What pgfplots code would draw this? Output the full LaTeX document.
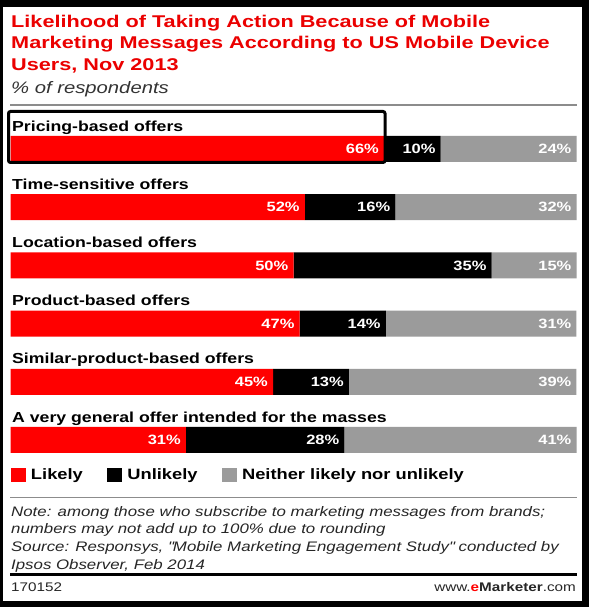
\documentclass[border=0pt]{standalone}
\usepackage{pgfplots}
\pgfplotsset{compat=1.18}
\usepackage{pgfplotstable}
\usepackage{fontspec}
\setmainfont{Liberation Sans}[FakeStretch=1.22]
\newfontfamily\titlefam{Liberation Sans}[FakeStretch=1.275]
\definecolor{emred}{RGB}{255,0,0}
\definecolor{emtitle}{RGB}{235,0,0}
\definecolor{emgray}{RGB}{155,155,155}

\pgfplotstableread{
row L U N
0 66 10 24
1 52 16 32
2 50 35 15
3 47 14 31
4 45 13 39
5 31 28 41
}\data

\newcommand\labfont{\bfseries\fontsize{14.5}{16}\selectfont}
\newcommand\pctfont{\bfseries\fontsize{13.5}{16}\selectfont}
\tikzset{catlab/.style={anchor=base west, inner sep=0pt, font=\labfont, xshift=1.5pt}}
\pgfplotsset{
  segbar/.style={xbar, bar width=26pt, bar shift=0pt, draw=none},
  pctlab/.style={forget plot, stack plots=false, only marks, mark=none,
  point meta=explicit symbolic,
  nodes near coords={\pgfplotspointmeta\%},
  nodes near coords style={anchor=east, xshift=-5pt, text=white, font=\pctfont, inner sep=0pt}}}

\begin{document}
\begin{tikzpicture}[x=1pt,y=1pt]
\fill[black] (0,0) rectangle (589,607);
\fill[white] (3,6) rectangle (582,599.5);
\useasboundingbox (0,0) rectangle (589,607);
% title
\node[anchor=base west, inner sep=0pt, text=emtitle, font=\titlefam\bfseries\fontsize{17}{20}\selectfont] at (11,579.7) {Likelihood of Taking Action Because of Mobile};
\node[anchor=base west, inner sep=0pt, text=emtitle, font=\titlefam\bfseries\fontsize{17}{20}\selectfont] at (11,558) {Marketing Messages According to US Mobile Device};
\node[anchor=base west, inner sep=0pt, text=emtitle, font=\titlefam\bfseries\fontsize{17}{20}\selectfont] at (11,536.3) {Users, Nov 2013};
\node[anchor=base west, inner sep=0pt, text=black!80, font=\itshape\fontsize{16.6}{20}\selectfont] at (11,513) {\% of respondents};
\draw[black!45, line width=1.5pt] (10,502) -- (577,502);

\begin{axis}[
  at={(10.5pt,487.1pt)}, anchor=north west,
  scale only axis, width=566pt, height=349.2pt,
  stack plots=x,
  xmin=0, xmax=100, ymin=-0.5, ymax=5.5, y dir=reverse,
  axis lines=none, ticks=none, clip=false,
  legend columns=-1,
  legend style={at={(axis description cs:0,-0.016)}, anchor=west, draw=none, fill=none,
    inner sep=0pt, outer sep=0pt, font=\bfseries\fontsize{15}{17}\selectfont,
    nodes={inner sep=0pt},
    /tikz/every odd column/.append style={column sep=5.5pt},
    /tikz/every even column/.append style={column sep=24pt}},
  legend image code/.code={\fill[#1] (0pt,-7pt) rectangle (15pt,7pt);},
]
\addplot[segbar, fill=emred] table[x expr=\thisrow{L}*100/(\thisrow{L}+\thisrow{U}+\thisrow{N}), y=row] {\data};
\addplot[segbar, fill=black] table[x expr=\thisrow{U}*100/(\thisrow{L}+\thisrow{U}+\thisrow{N}), y=row] {\data};
\addplot[segbar, fill=emgray] table[x expr=\thisrow{N}*100/(\thisrow{L}+\thisrow{U}+\thisrow{N}), y=row] {\data};
\legend{Likely, Unlikely, Neither likely nor unlikely}
% value labels at the end of each segment
\addplot[pctlab] table[x expr=\thisrow{L}*100/(\thisrow{L}+\thisrow{U}+\thisrow{N}), y=row, meta=L] {\data};
\addplot[pctlab] table[x expr=(\thisrow{L}+\thisrow{U})*100/(\thisrow{L}+\thisrow{U}+\thisrow{N}), y=row, meta=U] {\data};
\addplot[pctlab] table[x expr=(\thisrow{L}+\thisrow{U}+\thisrow{N})*100/(\thisrow{L}+\thisrow{U}+\thisrow{N}), y=row, meta=N] {\data};
\node[catlab] at (axis cs:0,-0.309) {Pricing-based offers};
\node[catlab] at (axis cs:0,0.691) {Time-sensitive offers};
\node[catlab] at (axis cs:0,1.691) {Location-based offers};
\node[catlab] at (axis cs:0,2.691) {Product-based offers};
\node[catlab] at (axis cs:0,3.691) {Similar-product-based offers};
\node[catlab] at (axis cs:0,4.691) {A very general offer intended for the masses};
\end{axis}
\draw[black, line width=3pt, rounded corners=2pt] (8.5,495.5) rectangle (385,444.5);

\draw[black!45, line width=1.5pt] (10,109.5) -- (577,109.5);
\node[anchor=base west, inner sep=0pt, text=black!85, font=\itshape\fontsize{13.8}{16}\selectfont] at (11,90.5) {Note: among those who subscribe to marketing messages from brands;};
\node[anchor=base west, inner sep=0pt, text=black!85, font=\itshape\fontsize{13.8}{16}\selectfont] at (11,73) {numbers may not add up to 100\% due to rounding};
\node[anchor=base west, inner sep=0pt, text=black!85, font=\itshape\fontsize{13.8}{16}\selectfont] at (11,55.3) {Source: Responsys, \textquotedbl Mobile Marketing Engagement Study\textquotedbl{} conducted by};
\node[anchor=base west, inner sep=0pt, text=black!85, font=\itshape\fontsize{13.8}{16}\selectfont] at (11,37.7) {Ipsos Observer, Feb 2014};
\draw[black, line width=3pt] (10,32) -- (577,32);
\node[anchor=base west, inner sep=0pt, text=black!85, font=\fontsize{12.5}{15}\selectfont] at (11,15) {170152};
\node[anchor=base east, inner sep=0pt, text=black!85, font=\fontsize{12.5}{15}\selectfont] at (576,15) {www.{\bfseries\color{emred}e}{\bfseries Marketer}.com};
\end{tikzpicture}
\end{document}
